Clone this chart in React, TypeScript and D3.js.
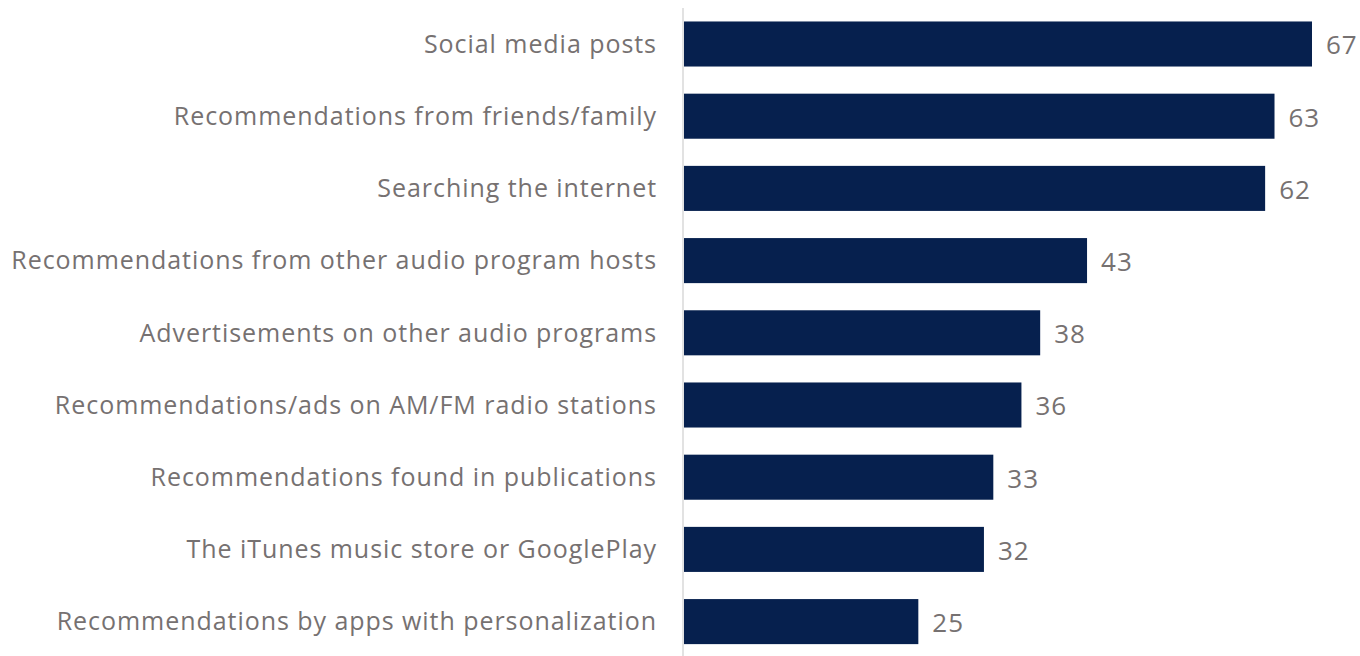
import React from "react";
import * as d3 from "d3";

const categories = [
  "Social media posts",
  "Recommendations from friends/family",
  "Searching the internet",
  "Recommendations from other audio program hosts",
  "Advertisements on other audio programs",
  "Recommendations/ads on AM/FM radio stations",
  "Recommendations found in publications",
  "The iTunes music store or GooglePlay",
  "Recommendations by apps with personalization",
];
const values = [67, 63, 62, 43, 38, 36, 33, 32, 25];

const W = 1360;
const H = 656;
const axisX = 684;
const FONT = "'Open Sans', sans-serif";
const TEXT = "#767171";
const BAR = "#06204e";

export default function App() {
  const x = d3.scaleLinear().domain([0, 67]).range([axisX, 1312]);
  const y = d3.scaleBand<string>().domain(categories).range([7.9, 657.7]).paddingInner(0.376).paddingOuter(0.188);
  return (
    <svg width={W} height={H} style={{ position: "absolute", left: 0, top: 0 }}>
      <rect width={W} height={H} fill="#fff" />
      {categories.map((c, i) => {
        const yy = y(c)!;
        const bw = y.bandwidth();
        return (
          <g key={c}>
            <rect x={x(0)} y={yy} width={x(values[i]) - x(0)} height={bw} fill={BAR} />
            <text x={657} y={yy + bw / 2} dy="0.35em" textAnchor="end" fontFamily={FONT} fontSize={25} letterSpacing={0.95} fill={TEXT}>
              {c}
            </text>
            <text x={x(values[i]) + 14} y={yy + bw / 2} dy="0.4em" textAnchor="start" fontFamily={FONT} fontSize={26} letterSpacing={1} fill={TEXT}>
              {values[i]}
            </text>
          </g>
        );
      })}
      <line x1={axisX - 1} x2={axisX - 1} y1={8} y2={656} stroke="#d9d9d9" strokeWidth={1.5} />
    </svg>
  );
}
